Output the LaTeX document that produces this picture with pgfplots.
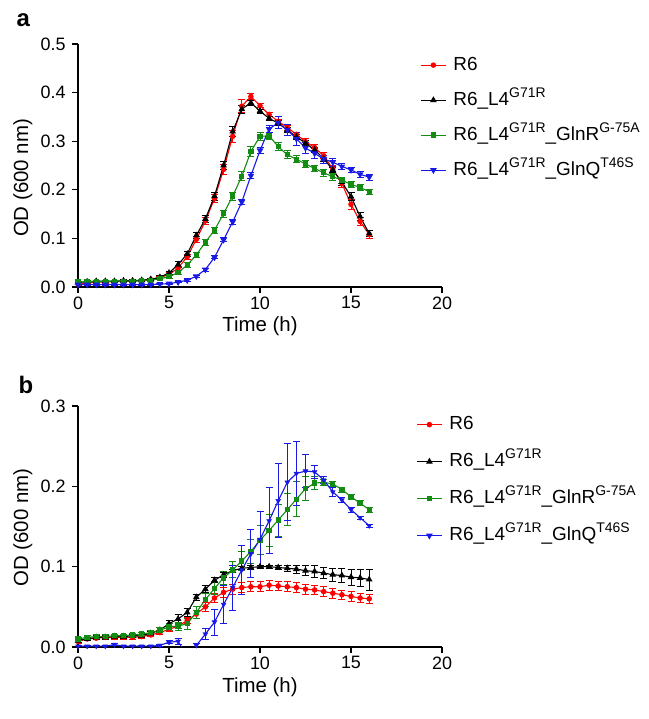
\documentclass[border=0pt]{standalone}
\usepackage{pgfplots}
\pgfplotsset{compat=1.18}
\usepackage{pgfplotstable}
\usepackage{fontspec}
\setmainfont{Liberation Sans}
\definecolor{cR}{RGB}{255,0,0}
\definecolor{cK}{RGB}{0,0,0}
\definecolor{cG}{RGB}{20,140,20}
\definecolor{cB}{RGB}{25,25,230}
\newcommand{\supx}[1]{\raisebox{0.42em}{\fontsize{14}{14}\selectfont #1}}

\pgfplotstableread{
t y e
0 0.006 0.002
0.5 0.009 0.002
1 0.010 0.002
1.5 0.010 0.002
2 0.011 0.002
2.5 0.011 0.002
3 0.012 0.002
3.5 0.013 0.002
4 0.015 0.002
4.5 0.019 0.002
5 0.026 0.003
5.5 0.039 0.004
6 0.062 0.005
6.5 0.098 0.006
7 0.136 0.007
7.5 0.182 0.008
8 0.242 0.010
8.5 0.310 0.012
9 0.372 0.013
9.5 0.392 0.006
10 0.373 0.004
10.5 0.355 0.004
11 0.341 0.004
11.5 0.328 0.005
12 0.314 0.005
12.5 0.299 0.006
13 0.287 0.006
13.5 0.270 0.006
14 0.243 0.007
14.5 0.213 0.008
15 0.170 0.010
15.5 0.135 0.008
16 0.108 0.008
}\aR
\pgfplotstableread{
t y e
0 0.009 0.002
0.5 0.011 0.002
1 0.012 0.002
1.5 0.012 0.002
2 0.012 0.002
2.5 0.013 0.002
3 0.013 0.002
3.5 0.014 0.002
4 0.016 0.002
4.5 0.020 0.003
5 0.029 0.004
5.5 0.046 0.006
6 0.068 0.006
6.5 0.106 0.007
7 0.140 0.007
7.5 0.187 0.008
8 0.250 0.009
8.5 0.320 0.010
9 0.366 0.008
9.5 0.379 0.005
10 0.362 0.004
10.5 0.347 0.004
11 0.337 0.005
11.5 0.323 0.005
12 0.309 0.005
12.5 0.296 0.005
13 0.282 0.005
13.5 0.264 0.006
14 0.241 0.006
14.5 0.216 0.007
15 0.186 0.008
15.5 0.145 0.008
16 0.110 0.007
}\aK
\pgfplotstableread{
t y e
0 0.010 0.002
0.5 0.011 0.002
1 0.011 0.002
1.5 0.011 0.002
2 0.012 0.002
2.5 0.012 0.002
3 0.012 0.002
3.5 0.013 0.002
4 0.014 0.002
4.5 0.017 0.002
5 0.021 0.003
5.5 0.030 0.004
6 0.045 0.005
6.5 0.066 0.005
7 0.092 0.006
7.5 0.117 0.006
8 0.151 0.007
8.5 0.187 0.008
9 0.228 0.009
9.5 0.279 0.010
10 0.310 0.009
10.5 0.311 0.007
11 0.289 0.008
11.5 0.272 0.008
12 0.263 0.007
12.5 0.253 0.007
13 0.244 0.007
13.5 0.235 0.007
14 0.227 0.007
14.5 0.220 0.006
15 0.211 0.006
15.5 0.205 0.006
16 0.196 0.005
}\aG
\pgfplotstableread{
t y e
0 0.005 0.001
0.5 0.005 0.001
1 0.005 0.001
1.5 0.005 0.001
2 0.005 0.001
2.5 0.005 0.001
3 0.005 0.001
3.5 0.005 0.001
4 0.005 0.001
4.5 0.006 0.001
5 0.007 0.001
5.5 0.010 0.001
6 0.014 0.002
6.5 0.022 0.002
7 0.036 0.003
7.5 0.061 0.003
8 0.097 0.004
8.5 0.134 0.005
9 0.175 0.006
9.5 0.229 0.006
10 0.281 0.007
10.5 0.325 0.008
11 0.338 0.012
11.5 0.323 0.012
12 0.305 0.014
12.5 0.286 0.012
13 0.275 0.010
13.5 0.263 0.008
14 0.257 0.008
14.5 0.248 0.007
15 0.241 0.006
15.5 0.232 0.006
16 0.226 0.006
}\aB
\pgfplotstableread{
t y e
0 0.007 0.002
0.5 0.010 0.002
1 0.011 0.002
1.5 0.012 0.002
2 0.012 0.002
2.5 0.012 0.002
3 0.012 0.002
3.5 0.013 0.002
4 0.015 0.002
4.5 0.018 0.002
5 0.022 0.003
5.5 0.026 0.003
6 0.033 0.004
6.5 0.041 0.005
7 0.050 0.006
7.5 0.061 0.006
8 0.068 0.006
8.5 0.072 0.006
9 0.074 0.006
9.5 0.075 0.006
10 0.075 0.006
10.5 0.077 0.006
11 0.076 0.006
11.5 0.075 0.006
12 0.074 0.006
12.5 0.072 0.006
13 0.071 0.006
13.5 0.069 0.006
14 0.067 0.006
14.5 0.065 0.006
15 0.063 0.006
15.5 0.061 0.006
16 0.060 0.006
}\bR
\pgfplotstableread{
t y e
0 0.008 0.002
0.5 0.010 0.002
1 0.012 0.002
1.5 0.012 0.002
2 0.013 0.002
2.5 0.013 0.002
3 0.014 0.002
3.5 0.014 0.002
4 0.017 0.002
4.5 0.021 0.003
5 0.029 0.004
5.5 0.035 0.005
6 0.043 0.005
6.5 0.062 0.004
7 0.072 0.004
7.5 0.083 0.003
8 0.090 0.003
8.5 0.095 0.002
9 0.098 0.002
9.5 0.099 0.002
10 0.100 0.002
10.5 0.100 0.002
11 0.099 0.003
11.5 0.098 0.004
12 0.097 0.005
12.5 0.095 0.006
13 0.094 0.007
13.5 0.092 0.007
14 0.090 0.008
14.5 0.089 0.009
15 0.087 0.010
15.5 0.086 0.011
16 0.084 0.013
}\bK
\pgfplotstableread{
t y e
0 0.010 0.002
0.5 0.012 0.002
1 0.013 0.002
1.5 0.013 0.002
2 0.014 0.002
2.5 0.014 0.002
3 0.015 0.002
3.5 0.016 0.002
4 0.018 0.002
4.5 0.021 0.003
5 0.025 0.004
5.5 0.026 0.005
6 0.029 0.007
6.5 0.043 0.008
7 0.059 0.008
7.5 0.073 0.008
8 0.086 0.008
8.5 0.096 0.010
9 0.107 0.012
9.5 0.119 0.015
10 0.133 0.018
10.5 0.145 0.020
11 0.158 0.020
11.5 0.171 0.020
12 0.184 0.022
12.5 0.197 0.015
13 0.204 0.008
13.5 0.205 0.004
14 0.203 0.003
14.5 0.196 0.003
15 0.187 0.003
15.5 0.179 0.003
16 0.171 0.003
}\bG
\pgfplotstableread{
t y e
0 0.001 0.001
0.5 0.001 0.001
1 0.001 0.001
1.5 0.001 0.001
2 0.003 0.001
2.5 0.001 0.001
3 0.001 0.001
3.5 0.001 0.001
4 0.001 0.001
4.5 0.002 0.001
5 0.006 0.002
5.5 0.007 0.004
6 -0.012 0
6.5 0.002 0.002
7 0.016 0.007
7.5 0.031 0.016
8 0.053 0.024
8.5 0.074 0.028
9 0.096 0.030
9.5 0.116 0.030
10 0.134 0.035
10.5 0.157 0.041
11 0.182 0.046
11.5 0.205 0.048
12 0.216 0.040
12.5 0.219 0.021
13 0.218 0.008
13.5 0.208 0.004
14 0.193 0.006
14.5 0.183 0.003
15 0.171 0.003
15.5 0.161 0.002
16 0.151 0.002
}\bB

\pgfplotsset{
  myax/.style={
    scale only axis, width=364bp, xmin=0, xmax=20, ymin=0,
    axis lines=left, axis line style={-, line width=1.3bp},
    tick align=outside, major tick length=6bp,
    tick style={line width=1.3bp, black},
    xtick={0,5,10,15,20},
    ticklabel style={font=\fontsize{18}{18}\selectfont},
    /pgf/number format/assume math mode=true,
    yticklabel style={xshift=-3bp, /pgf/number format/.cd, fixed, fixed zerofill, precision=1},
    xlabel={Time (h)}, ylabel={OD (600 nm)},
    xlabel style={font=\fontsize{20.5}{20.5}\selectfont,
      at={([yshift=-45bp]axis description cs:0.5,0)}, anchor=base},
    ylabel style={font=\fontsize{20.5}{20.5}\selectfont, anchor=base},
    legend cell align=left,
    legend image code/.code={\draw[mark repeat=2, mark phase=2, #1] plot coordinates {(0bp,0bp) (12.5bp,0bp) (25bp,0bp)};},
    legend style={draw=none, fill=none, anchor=north west, inner sep=0pt,
      font=\fontsize{19}{19}\selectfont, row sep=15bp,
      /tikz/every odd column/.style={column sep=6bp},
      nodes={inner sep=1bp, text height=14bp, text depth=4bp}},
  },
  ebar/.style={/pgfplots/error bars/y dir=both, /pgfplots/error bars/y explicit,
    /pgfplots/error bars/error bar style={line width=0.9bp, #1},
    /pgfplots/error bars/error mark=|,
    /pgfplots/error bars/error mark options={mark size=3.5bp, line width=0.9bp, #1}},
  sR/.style={cR, line width=1.1bp, mark=*, mark size=2.2bp},
  sK/.style={cK, line width=1.1bp, mark=triangle*, mark size=2.8bp},
  sG/.style={cG, line width=1.1bp, mark=square*, mark size=2.1bp},
  sB/.style={cB, line width=1.1bp, mark=triangle*, mark options={rotate=180}, mark size=2.8bp},
}

\begin{document}
\begin{tikzpicture}
\path[use as bounding box] (0bp,0bp) rectangle (649bp,719bp);
\node[anchor=base west, font=\bfseries\fontsize{24}{24}\selectfont] at (13bp,692bp) {a};
\node[anchor=base west, font=\bfseries\fontsize{24}{24}\selectfont] at (15bp,325bp) {b};

\begin{axis}[myax, at={(78bp,432bp)}, anchor=south west, height=243bp, ymax=0.5,
  ytick={0,0.1,0.2,0.3,0.4,0.5},
  ylabel style={at={([xshift=-50bp]axis description cs:0,0.449)}},
  legend style={at={(rel axis cs:0.94,0.955)}}]
\addplot[sR, ebar=cR] table[x=t, y=y, y error=e] {\aR};
\addlegendentry{R6}
\addplot[sK, ebar=cK] table[x=t, y=y, y error=e] {\aK};
\addlegendentry{R6\_L4\supx{G71R}}
\addplot[sG, ebar=cG] table[x=t, y=y, y error=e] {\aG};
\addlegendentry{R6\_L4\supx{G71R}\_GlnR\supx{G-75A}}
\addplot[sB, ebar=cB] table[x=t, y=y, y error=e] {\aB};
\addlegendentry{R6\_L4\supx{G71R}\_GlnQ\supx{T46S}}
\end{axis}

\begin{axis}[myax, at={(78bp,72bp)}, anchor=south west, height=241bp, ymax=0.3,
  ytick={0,0.1,0.2,0.3},
  ylabel style={at={([xshift=-50bp]axis description cs:0,0.496)}},
  legend style={at={(rel axis cs:0.929,0.965)}, row sep=17bp}]
\addplot[sR, ebar=cR] table[x=t, y=y, y error=e] {\bR};
\addlegendentry{R6}
\addplot[sK, ebar=cK] table[x=t, y=y, y error=e] {\bK};
\addlegendentry{R6\_L4\supx{G71R}}
\addplot[sG, ebar=cG] table[x=t, y=y, y error=e] {\bG};
\addlegendentry{R6\_L4\supx{G71R}\_GlnR\supx{G-75A}}
\addplot[sB, ebar=cB, mark=none, forget plot] table[x=t, y=y, y error=e] {\bB};
\addplot[cB, only marks, mark=triangle*, mark options={rotate=180}, mark size=2.8bp,
  restrict y to domain=-0.001:1, forget plot] table[x=t, y=y] {\bB};
\addlegendimage{sB}
\addlegendentry{R6\_L4\supx{G71R}\_GlnQ\supx{T46S}}
\end{axis}
\end{tikzpicture}
\end{document}
